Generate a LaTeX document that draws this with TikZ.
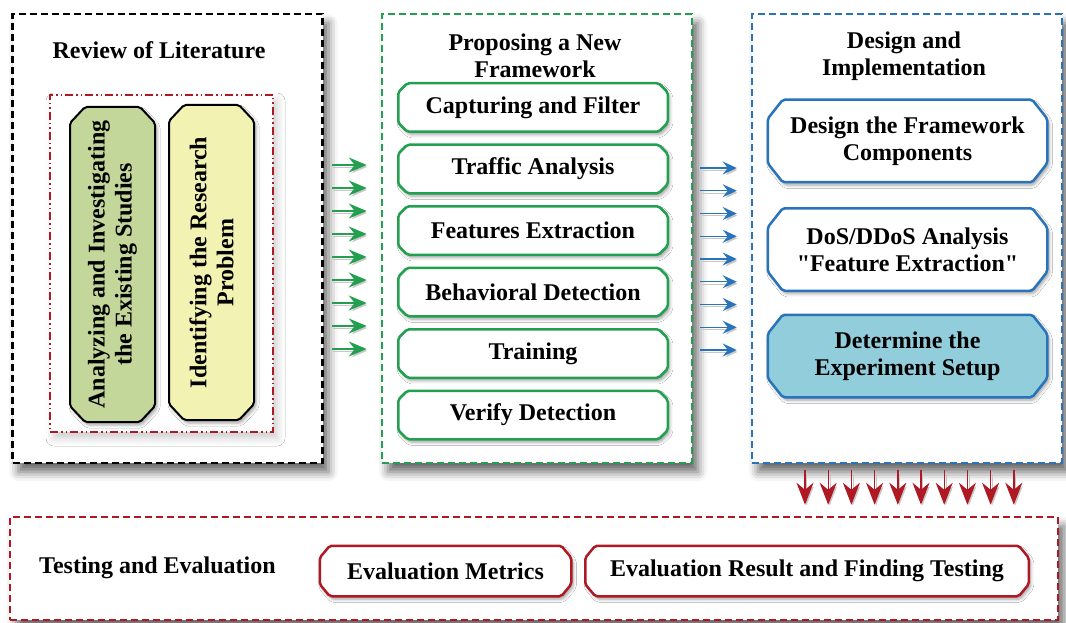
\documentclass[tikz,border=0pt]{standalone}
\usepackage{fontspec}
\setmainfont{Liberation Serif}[Ligatures=TeXOff]
\usepackage{tikz}
\usetikzlibrary{arrows.meta, positioning, shadows, shadows.blur}

\definecolor{grn}{RGB}{34,160,80}
\definecolor{blu}{RGB}{40,115,185}
\definecolor{drd}{RGB}{175,25,35}
\definecolor{lgrn}{RGB}{196,215,155}
\definecolor{lyel}{RGB}{242,242,178}
\definecolor{lblu}{RGB}{146,205,220}

\newcommand{\diagfont}{\fontsize{24}{27}\selectfont\bfseries}

% box with cut corners
\makeatletter
\pgfkeys{/pgf/oct xcut/.initial=9pt, /pgf/oct ycut/.initial=9pt}
\pgfdeclareshape{octbox}{
  \inheritsavedanchors[from=rectangle]
  \inheritanchorborder[from=rectangle]
  \inheritanchor[from=rectangle]{center}
  \inheritanchor[from=rectangle]{north}
  \inheritanchor[from=rectangle]{south}
  \inheritanchor[from=rectangle]{east}
  \inheritanchor[from=rectangle]{west}
  \inheritanchor[from=rectangle]{north east}
  \inheritanchor[from=rectangle]{north west}
  \inheritanchor[from=rectangle]{south east}
  \inheritanchor[from=rectangle]{south west}
  \inheritanchor[from=rectangle]{text}
  \inheritanchor[from=rectangle]{base}
  \backgroundpath{%
    \pgfmathsetlength\pgf@xc{\pgfkeysvalueof{/pgf/oct xcut}}%
    \pgfmathsetlength\pgf@yc{\pgfkeysvalueof{/pgf/oct ycut}}%
    \southwest \pgf@xa=\pgf@x \pgf@ya=\pgf@y
    \northeast \pgf@xb=\pgf@x \pgf@yb=\pgf@y
    \edef\octL{\the\pgf@xa}\edef\octR{\the\pgf@xb}%
    \edef\octB{\the\pgf@ya}\edef\octT{\the\pgf@yb}%
    \advance\pgf@xa by \pgf@xc \advance\pgf@xb by -\pgf@xc
    \advance\pgf@ya by \pgf@yc \advance\pgf@yb by -\pgf@yc
    \edef\octLi{\the\pgf@xa}\edef\octRi{\the\pgf@xb}%
    \edef\octBi{\the\pgf@ya}\edef\octTi{\the\pgf@yb}%
    \pgfpathmoveto{\pgfqpoint{\octLi}{\octB}}%
    \pgfpathlineto{\pgfqpoint{\octRi}{\octB}}%
    \pgfpathlineto{\pgfqpoint{\octR}{\octBi}}%
    \pgfpathlineto{\pgfqpoint{\octR}{\octTi}}%
    \pgfpathlineto{\pgfqpoint{\octRi}{\octT}}%
    \pgfpathlineto{\pgfqpoint{\octLi}{\octT}}%
    \pgfpathlineto{\pgfqpoint{\octL}{\octTi}}%
    \pgfpathlineto{\pgfqpoint{\octL}{\octBi}}%
    \pgfpathclose
  }
}
\makeatother

\tikzstyle{sec} = [rectangle, draw, line width=2.5pt, dash pattern=on 7pt off 4pt, fill=white, minimum width=310pt, minimum height=449pt, inner sep=0pt, blur shadow={shadow xshift=6pt, shadow yshift=-9pt, shadow blur radius=9pt, shadow opacity=60}]
\tikzstyle{blk} = [octbox, draw, line width=2.5pt, fill=white, align=center, inner sep=0pt, rounded corners=2pt, font=\diagfont, blur shadow={shadow xshift=2pt, shadow yshift=-3pt, shadow blur radius=3pt, shadow opacity=35}]
\tikzstyle{blkG} = [blk, draw=grn, minimum width=267pt, minimum height=46pt]
\tikzstyle{blkB} = [blk, draw=blu, minimum width=277pt, minimum height=80pt, oct xcut=15pt, oct ycut=19pt]
\tikzstyle{blkR} = [blk, draw=drd, minimum height=48pt, oct xcut=10pt, oct ycut=12pt]
\tikzstyle{blkV} = [blk, line width=2pt, rotate=90, minimum width=313pt, minimum height=83pt, oct xcut=16pt, oct ycut=15pt]
\tikzstyle{ashadow} = [preaction={draw=black!22, transform canvas={shift={(1.5pt,-2pt)}}}]
\tikzstyle{garrow} = [grn, line width=1.5pt, -{Stealth[length=18pt, width=15pt, inset=6pt]}, ashadow]
\tikzstyle{barrow} = [blu, line width=1.3pt, -{Stealth[length=14pt, width=13pt, inset=5pt]}, ashadow]
\tikzstyle{rarrow} = [drd, line width=1.4pt, -{Stealth[length=22pt, width=17pt, inset=7pt]}, ashadow]

\begin{document}
\begin{tikzpicture}[x=1pt, y=-1pt, align=center, font=\diagfont, node distance=13pt]
\useasboundingbox (0,0) rectangle (1066,623);

% three stages
\node(lit)[sec] at (167.5,238.5) {};
\node(prop)[sec, draw=grn] at (537,238.5) {};
\node(des)[sec, draw=blu] at (907,238.5) {};
\node(test)[sec, draw=drd, minimum width=1048pt, minimum height=103pt] at (534,568.5) {};

\node(litT) at (159,50) {Review of Literature};
\node(propT) at (535,56) {Proposing a New\\Framework};
\node(desT) at (904,56) {Design and\\Implementation};
\node(testT) at (157.5,568) {Testing and Evaluation};

% literature
\node(rev)[rectangle, draw=drd, fill=white, line width=2pt, dash pattern=on 8pt off 3pt on 1.5pt off 3pt on 1.5pt off 3pt, minimum width=223pt, minimum height=337pt, blur shadow={shadow xshift=4pt, shadow yshift=-6pt, shadow blur radius=8pt, shadow opacity=20}] at (161.5,263.5) {};
\node(ana)[blkV, fill=lgrn] at (112.5,264.5) {Analyzing and Investigating\\the Existing Studies};
\node(idn)[blkV, fill=lyel] at (211.5,262.5) {Identifying the Research\\Problem};

% framework
\node(F1)[blkG] at (533,107.5) {Capturing and Filter};
\node(F2)[blkG, below = of F1] {Traffic Analysis};
\node(F3)[blkG, below = of F2] {Features Extraction};
\node(F4)[blkG, below = of F3] {Behavioral Detection};
\node(F5)[blkG, below = of F4] {Training};
\node(F6)[blkG, below = of F5] {Verify Detection};

% design
\node(D1)[blkB] at (907.5,141) {Design the Framework\\Components};
\node(D2)[blkB, below = 26pt of D1] {DoS/DDoS Analysis\\"Feature Extraction"};
\node(D3)[blkB, fill=lblu, below = 24pt of D2] {Determine the\\Experiment Setup};

% testing
\node(E1)[blkR, minimum width=249pt] at (445.5,571) {Evaluation Metrics};
\node(E2)[blkR, minimum width=441pt, right = 14pt of E1] {Evaluation Result and Finding Testing};

\foreach \k [evaluate=\k as \yy using 165+23*\k] in {0,...,8}
  \draw[garrow] ([xshift=8pt]lit.east |- 0,\yy) -- ([xshift=-14pt]prop.west |- 0,\yy);
\foreach \k [evaluate=\k as \yy using 168+22.75*\k] in {0,...,8}
  \draw[barrow] ([xshift=7pt]prop.east |- 0,\yy) -- ([xshift=-14pt]des.west |- 0,\yy);
\foreach \k [evaluate=\k as \xx using 805+23.2*\k] in {0,...,9}
  \draw[rarrow] ([yshift=-6pt]des.south -| \xx,0) -- ([yshift=11pt]test.north -| \xx,0);

\end{tikzpicture}
\end{document}
